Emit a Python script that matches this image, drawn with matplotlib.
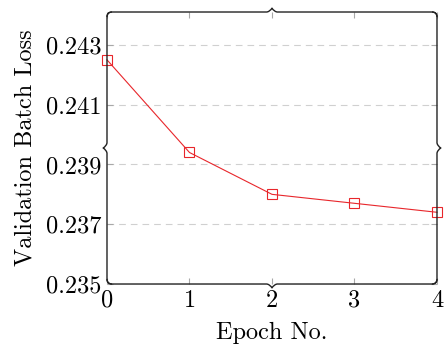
import numpy as np
import matplotlib
matplotlib.use("Agg")
import matplotlib.pyplot as plt
from matplotlib.path import Path
from matplotlib.patches import PathPatch

plt.rcParams['font.family'] = 'serif'
plt.rcParams['font.serif'] = ['cmr10', 'DejaVu Serif']
plt.rcParams['mathtext.fontset'] = 'cm'
plt.rcParams['axes.formatter.use_mathtext'] = True

epochs = [0, 1, 2, 3, 4]
val_loss = [0.2425, 0.2394, 0.2380, 0.2377, 0.2374]
yticks = [0.235, 0.237, 0.239, 0.241, 0.243]
ytick_labels = ['0.235', '0.237', '0.239', '0.241', '0.243']


def brace_path(p0, p1, out, a, r, t, s):
    '''
    Curly brace from p0 to p1 (pixel units), tip bulging along unit vector out.
    a: curl of the ends (inward), r: corner radius, t: tip height, s: tip half width
    '''
    p0 = np.asarray(p0, float)
    p1 = np.asarray(p1, float)
    L = np.linalg.norm(p1 - p0)
    u = (p1 - p0) / L
    n = np.asarray(out, float)

    def P(a_, b_):
        return p0 + u * a_ + n * b_

    m = L / 2
    verts = [P(0, -a), P(0, 0), P(r, 0),
             P(m - s, 0), P(m - 0.3 * s, 0.2 * t), P(m, t),
             P(m + 0.3 * s, 0.2 * t), P(m + s, 0),
             P(L - r, 0), P(L, 0), P(L, -a)]
    codes = [Path.MOVETO, Path.CURVE3, Path.CURVE3,
             Path.LINETO, Path.CURVE3, Path.CURVE3,
             Path.CURVE3, Path.CURVE3,
             Path.LINETO, Path.CURVE3, Path.CURVE3]
    return Path(verts, codes)


fig = plt.figure(figsize=(4.46, 3.49), dpi=100)
ax = fig.add_axes([0.2399, 0.1862, 0.7399, 0.7794])

ax.plot(epochs, val_loss, color='#e8262b', lw=0.8, marker='s', markersize=7,
        markerfacecolor='none', markeredgecolor='#e8262b', markeredgewidth=0.8,
        clip_on=False, zorder=3)

ax.set_xlim(0, 4)
ax.set_ylim(0.235, 0.2441)
ax.set_xticks(epochs)
ax.set_xticklabels([str(e) for e in epochs])
ax.set_yticks(yticks)
ax.set_yticklabels(ytick_labels)

ax.grid(axis='y', color='#d0d0d0', linestyle=(0, (6, 4.5)), lw=0.8)
ax.tick_params(direction='in', length=4, width=0.8, color='#a8a8a8',
               top=True, right=True, labelsize=17.5, pad=4)

ax.set_xlabel('Epoch No.', fontsize=17.5, labelpad=7)
ax.set_ylabel('Validation Batch Loss', fontsize=17.5, labelpad=7)

for sp in ax.spines.values():
    sp.set_visible(False)

# braces around the axis box, built in display pixels
fig.canvas.draw()
bb = ax.get_window_extent()
x0, y0, x1, y1 = bb.x0, bb.y0, bb.x1, bb.y1
kw = dict(a=5, r=5, t=4, s=5)
sides = [((x0, y1), (x1, y1), (0, 1)),
         ((x0, y0), (x1, y0), (0, -1)),
         ((x0, y0), (x0, y1), (-1, 0)),
         ((x1, y0), (x1, y1), (1, 0))]
for p0, p1, out in sides:
    patch = PathPatch(brace_path(p0, p1, out, **kw), facecolor='none',
                      edgecolor='#222222', lw=1.0, transform=None,
                      clip_on=False, zorder=4)
    fig.add_artist(patch)

fig.savefig('out.png', dpi=100)
